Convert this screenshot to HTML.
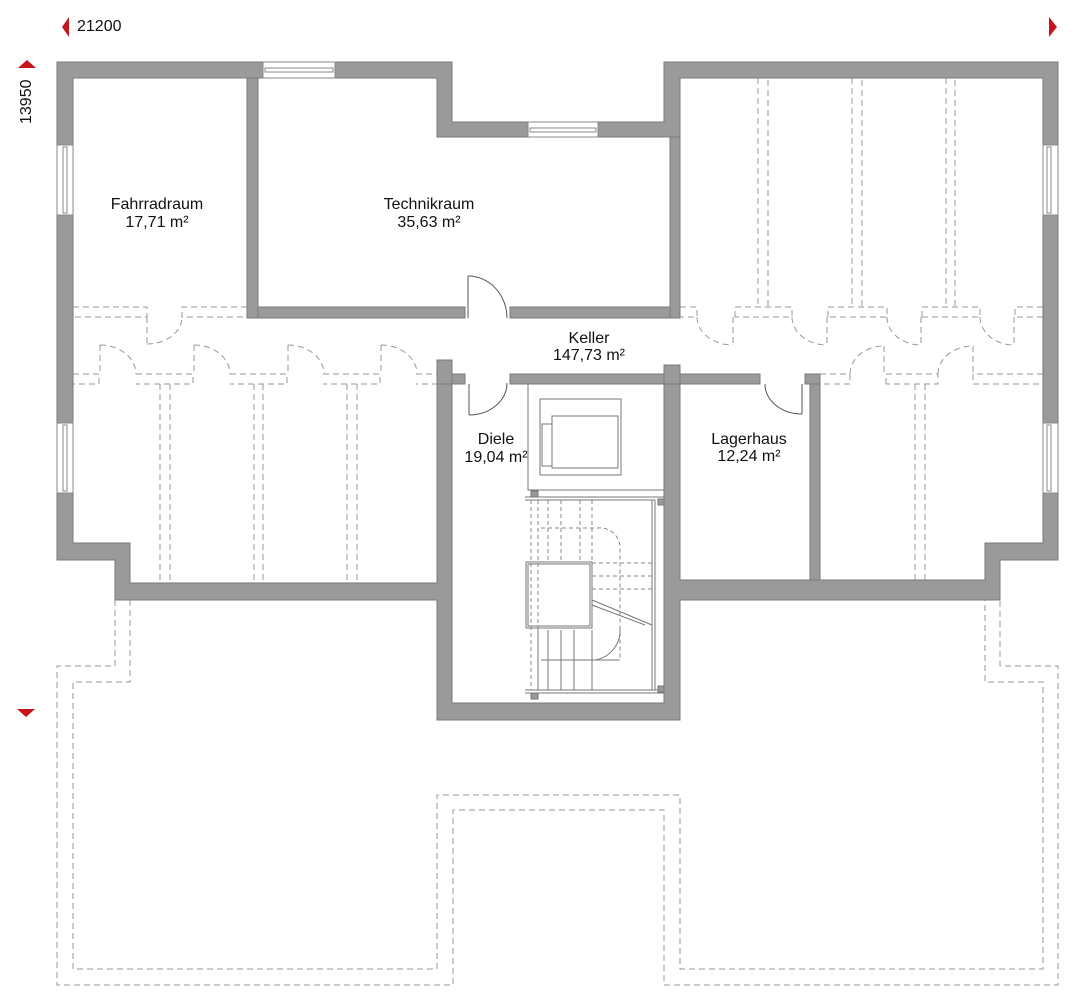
<!DOCTYPE html>
<html><head><meta charset="utf-8"><style>
html,body{margin:0;padding:0;background:#fff;}
svg{display:block;}
text{font-family:"Liberation Sans",sans-serif;fill:#111;}
</style></head><body>
<svg width="1080" height="1001" viewBox="0 0 1080 1001" xmlns="http://www.w3.org/2000/svg">
<!-- dimension markers -->
<polygon points="69,17 69,37 62,27" fill="#c8141c"/>
<text x="77" y="31" font-size="16">21200</text>
<polygon points="1049,17 1049,37 1057,27" fill="#c8141c"/>
<polygon points="18,68 36,68 27,60" fill="#c8141c"/>
<text x="0" y="0" font-size="16" transform="translate(31,124) rotate(-90)">13950</text>
<polygon points="17,709 35,709 26,717" fill="#c8141c"/>

<!-- dashed outline -->
<g fill="none" stroke="#999" stroke-width="1" stroke-dasharray="6,4">
<polyline points="115,600 115,666 57,666 57,985 453,985 453,810 664,810 664,985 1058,985 1058,666 1000,666 1000,600"/>
<polyline points="130,600 130,682 73,682 73,969 437,969 437,795 680,795 680,969 1043,969 1043,682 985,682 985,600"/>
<!-- left partitions upper -->
<polyline points="73,307 147,307 147,317 73,317"/>
<polyline points="247,307 182,307 182,317 247,317"/>
<line x1="147" y1="317" x2="147" y2="344"/>
<path d="M147,344 A35,27 0 0 0 182,317"/>
<!-- left lower -->
<polyline points="73,374 99,374 99,384 73,384"/>
<polyline points="136,374 193,374 193,384 136,384"/>
<polyline points="230,374 287,374 287,384 230,384"/>
<polyline points="323,374 380,374 380,384 323,384"/>
<polyline points="416,374 437,374 437,384 416,384"/>
<line x1="100" y1="345" x2="100" y2="374"/><path d="M100,345 A36,29 0 0 1 136,374"/>
<line x1="194" y1="345" x2="194" y2="374"/><path d="M194,345 A36,29 0 0 1 230,374"/>
<line x1="288" y1="345" x2="288" y2="374"/><path d="M288,345 A36,29 0 0 1 324,374"/>
<line x1="381" y1="345" x2="381" y2="374"/><path d="M381,345 A36,29 0 0 1 417,374"/>
<line x1="160" y1="384" x2="160" y2="583"/><line x1="170" y1="384" x2="170" y2="583"/>
<line x1="254" y1="384" x2="254" y2="583"/><line x1="263" y1="384" x2="263" y2="583"/>
<line x1="347" y1="384" x2="347" y2="583"/><line x1="357" y1="384" x2="357" y2="583"/>
<!-- right upper -->
<line x1="758" y1="78" x2="758" y2="307"/><line x1="768" y1="80" x2="768" y2="307"/>
<line x1="852" y1="78" x2="852" y2="307"/><line x1="862" y1="80" x2="862" y2="307"/>
<line x1="946" y1="78" x2="946" y2="307"/><line x1="955" y1="80" x2="955" y2="307"/>
<polyline points="680,307 697,307 697,317 680,317"/>
<polyline points="735,317 735,307 792,307 792,317 735,317"/>
<polyline points="828,317 828,307 887,307 887,317 828,317"/>
<polyline points="922,317 922,307 980,307 980,317 922,317"/>
<polyline points="1043,307 1015,307 1015,317 1043,317"/>
<line x1="733" y1="317" x2="733" y2="345"/><path d="M697,317 A36,28 0 0 0 733,345"/>
<line x1="827" y1="317" x2="827" y2="345"/><path d="M792,317 A35,28 0 0 0 827,345"/>
<line x1="921" y1="317" x2="921" y2="345"/><path d="M887,317 A34,28 0 0 0 921,345"/>
<line x1="1014" y1="317" x2="1014" y2="345"/><path d="M980,317 A34,28 0 0 0 1014,345"/>
<!-- right lower -->
<polyline points="820,374 850,374 850,384 820,384"/>
<polyline points="886,384 886,374 938,374 938,384 886,384"/>
<polyline points="1043,374 973,374 973,384 1043,384"/>
<line x1="884" y1="346" x2="884" y2="374"/><path d="M850,374 A34,28 0 0 1 884,346"/>
<line x1="973" y1="346" x2="973" y2="374"/><path d="M938,374 A35,28 0 0 1 973,346"/>
<line x1="915" y1="384" x2="915" y2="580"/><line x1="925" y1="384" x2="925" y2="580"/>
</g>

<!-- walls -->
<g fill="#9a9a9a" stroke="#7a7a7a" stroke-width="1">
<path d="M57,62 H452 V122 H664 V62 H1058 V560 H1000 V600 H680 V720 H437 V600 H130 V600 H115 V560 H57 Z M73,78 V543 H130 V583 H437 V384 H452 V703 H664 V384 H680 V580 H985 V543 H1043 V78 H680 V137 H437 V78 Z" fill-rule="evenodd"/>
<rect x="247" y="78" width="11" height="240"/>
<rect x="258" y="307" width="207" height="11"/>
<rect x="510" y="307" width="160" height="11"/>
<rect x="670" y="137" width="10" height="181"/>
<rect x="437" y="360" width="15" height="24"/>
<rect x="452" y="374" width="13" height="10"/>
<rect x="510" y="374" width="154" height="10"/>
<rect x="664" y="365" width="16" height="19"/>
<rect x="680" y="374" width="80" height="10"/>
<rect x="805" y="374" width="15" height="10"/>
<rect x="810" y="384" width="10" height="196"/>
</g>

<!-- windows -->
<g fill="#fff" stroke="#888" stroke-width="1">
<rect x="263" y="62" width="72" height="16"/><rect x="265" y="68" width="68" height="4"/>
<rect x="528" y="122" width="70" height="15"/><rect x="530" y="128" width="66" height="4"/>
<rect x="57" y="145" width="16" height="70"/><rect x="63" y="147" width="4" height="66"/>
<rect x="57" y="423" width="16" height="70"/><rect x="63" y="425" width="4" height="66"/>
<rect x="1043" y="145" width="15" height="70"/><rect x="1047" y="147" width="4" height="66"/>
<rect x="1043" y="423" width="15" height="70"/><rect x="1047" y="425" width="4" height="66"/>
</g>

<!-- doors -->
<g fill="none" stroke="#555" stroke-width="1">
<line x1="468" y1="276" x2="468" y2="318"/><path d="M468,276 A39,42 0 0 1 507,318"/>
<line x1="469" y1="384" x2="469" y2="415"/><path d="M469,415 A38,32 0 0 0 507,383"/>
<line x1="802" y1="384" x2="802" y2="414"/><path d="M765,384 A37,30 0 0 0 802,414"/>
</g>

<!-- elevator / stairs -->
<g fill="none" stroke="#777" stroke-width="1">
<rect x="528" y="384" width="136" height="106"/>
<rect x="540" y="399" width="81" height="76"/>
<rect x="552" y="416" width="66" height="52"/>
<rect x="542" y="424" width="10" height="42"/>
<line x1="525" y1="497" x2="664" y2="497"/><line x1="525" y1="500" x2="655" y2="500"/>
<line x1="525" y1="690" x2="664" y2="690"/><line x1="525" y1="693" x2="664" y2="693"/>
<line x1="655" y1="500" x2="655" y2="690"/><line x1="652" y1="500" x2="652" y2="690"/>
<rect x="526" y="562" width="66" height="66"/><rect x="528" y="564" width="62" height="62"/>
<g stroke="#888" stroke-dasharray="4,3">
<line x1="531" y1="500" x2="531" y2="690"/><line x1="538" y1="500" x2="538" y2="690"/>
<line x1="548" y1="500" x2="548" y2="562"/><line x1="561" y1="500" x2="561" y2="562"/>
<line x1="580" y1="500" x2="580" y2="562"/><line x1="592" y1="500" x2="592" y2="562"/>
<line x1="592" y1="563" x2="652" y2="563"/><line x1="592" y1="576" x2="652" y2="576"/>
<line x1="592" y1="589" x2="652" y2="589"/>
<path d="M541,528 H598 A20,20 0 0 1 620,548 V660"/>
</g>
<line x1="592" y1="600" x2="652" y2="625"/><line x1="592" y1="605" x2="645" y2="625"/>
<line x1="538" y1="630" x2="538" y2="690"/><line x1="548" y1="630" x2="548" y2="690"/>
<line x1="561" y1="630" x2="561" y2="690"/><line x1="574" y1="630" x2="574" y2="690"/>
<line x1="592" y1="630" x2="592" y2="690"/>
<line x1="541" y1="660" x2="620" y2="660" stroke-dasharray="none"/>
<path d="M620,628 A30,30 0 0 1 595,660"/>
</g>
<g fill="#9a9a9a" stroke="#777">
<rect x="531" y="491" width="7" height="6"/><rect x="658" y="499" width="6" height="6"/>
<rect x="531" y="693" width="7" height="6"/><rect x="658" y="686" width="6" height="6"/>
</g>

<!-- labels -->
<g font-size="16" text-anchor="middle">
<text x="157" y="209">Fahrradraum</text><text x="157" y="227">17,71 m²</text>
<text x="429" y="209">Technikraum</text><text x="429" y="227">35,63 m²</text>
<text x="589" y="343">Keller</text><text x="589" y="360">147,73 m²</text>
<text x="496" y="444">Diele</text><text x="496" y="462">19,04 m²</text>
<text x="749" y="444">Lagerhaus</text><text x="749" y="461">12,24 m²</text>
</g>
</svg>
</body></html>
